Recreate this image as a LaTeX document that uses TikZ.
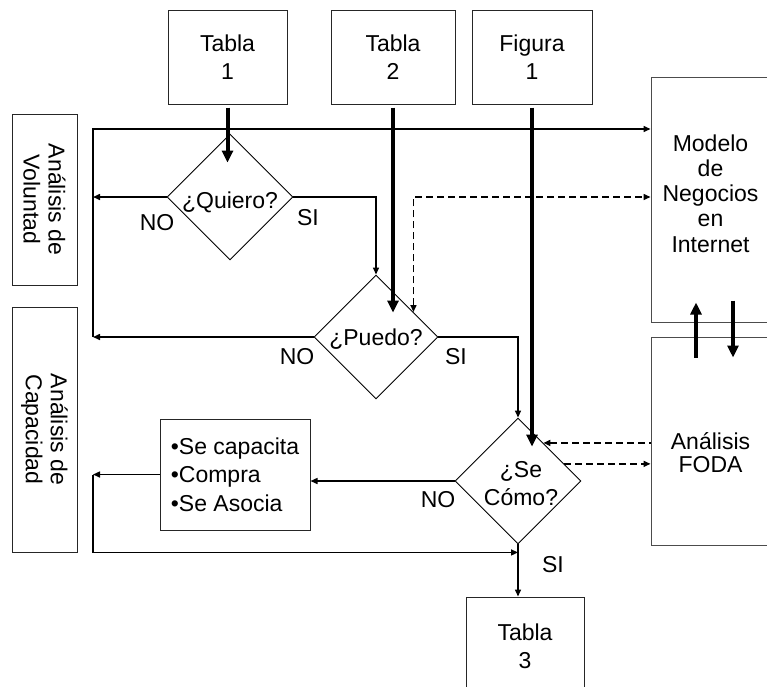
\documentclass[tikz,border=0pt]{standalone}
\usepackage{fontspec}
\setmainfont{Liberation Sans}
\usetikzlibrary{arrows.meta,shapes.geometric,calc}

\begin{document}
\begin{tikzpicture}[x=1pt,y=-1pt,
  >={Triangle[length=7pt,width=6pt]},
  txt/.style={font=\fontsize{23}{28}\selectfont, align=center},
  box/.style={draw=black!85, line width=1pt, inner sep=0pt, txt},
  rbox/.style={draw=black!70, line width=1pt, inner sep=0pt},
  decision/.style={diamond, draw, line width=0.9pt, inner sep=0pt,
    minimum width=126pt, minimum height=126pt},
  lbl/.style={font=\fontsize{23}{28}\selectfont, inner sep=0pt},
  flow/.style={line width=1.5pt, ->},
  dashlink/.style={line width=1.5pt, dash pattern=on 7pt off 4pt},
  heavy/.style={line width=4pt, -{Triangle[length=12pt,width=11pt]}},
]
\useasboundingbox (0,0) rectangle (767,686);

% source boxes
\node[box, minimum width=119pt, minimum height=94pt] (tabla1) at (227.5,57) {Tabla\\1};
\node[box, minimum width=124pt, minimum height=94pt] (tabla2) at (393,57) {Tabla\\2};
\node[box, minimum width=120pt, minimum height=94pt] (figura1) at (532,57) {Figura\\1};
\node[box, minimum width=118pt, minimum height=98pt] (tabla3) at (525,646) {Tabla\\3};

% side captions
\node[box, rotate=-90, minimum width=171pt, minimum height=65pt, font=\fontsize{23}{25}\selectfont]
  (voluntad) at (44.5,199.5) {Análisis de\\Voluntad};
\node[box, rotate=-90, minimum width=245pt, minimum height=65pt, font=\fontsize{23}{25}\selectfont]
  (capacidad) at (44.5,429.5) {Análisis de\\Capacidad};

% right-hand blocks
\node[rbox, minimum width=119pt, minimum height=245pt] (modelo) at (710.5,199.5) {};
\node[txt, font=\fontsize{23}{25.2}\selectfont] at ([yshift=6pt]modelo.center)
  {Modelo\\de\\Negocios\\en\\Internet};
\node[rbox, minimum width=119pt, minimum height=208pt] (foda) at (710.5,441) {};
\node[txt, font=\fontsize{23}{23}\selectfont] at ([yshift=-12pt]foda.center) {Análisis\\FODA};

% actions box
\node[box, minimum width=150pt, minimum height=111pt, align=left,
  font=\fontsize{23}{28.5}\selectfont] (acciones) at (235,474.5)
  {•Se capacita\\•Compra\\•Se Asocia};

% decisions
\node[decision, label={[lbl,yshift=-5pt]center:¿Quiero?}] (quiero) at (230,197) {};
\node[decision, minimum width=124pt, minimum height=124pt,
  label={[lbl,yshift=-2pt]center:¿Puedo?}] (puedo) at (376,337) {};
\node[decision, label={[lbl,align=center,xshift=3pt,yshift=-3pt]center:¿Se\\Cómo?}] (secomo) at (518,481) {};

% helper points
\coordinate (lt) at (93,129);
\coordinate (bl) at (acciones.west -| lt);
\coordinate (join) at ($(secomo.south)+(0,8)$);
\coordinate (pd) at ($(puedo.north)!0.6!(puedo.east)$);
\coordinate (fa) at ($(secomo.north)!0.4!(secomo.east)$);
\coordinate (fb) at ($(secomo.north)!0.73!(secomo.east)$);
\coordinate (t1) at ($(quiero.north)+(0,29)$);
\coordinate (t2) at ($(puedo.north)+(0,38)$);
\coordinate (t3) at ($(secomo.north)+(0,29)$);

% thin flow lines
\draw[flow] (quiero.west) -- (quiero.west -| lt);
\draw[flow] (puedo.west) -- (puedo.west -| lt);
\draw[flow] (puedo.west -| lt) -- (lt) -- (lt -| modelo.west);
\draw[flow] (quiero.east) -| (puedo.north);
\draw[flow] (puedo.east) -| (secomo.north);
\draw[flow] (secomo.west) -- (secomo.west -| acciones.east);
\draw[flow] (acciones.west) -- (bl);
\draw[flow] (bl) |- (join);
\draw[flow] (secomo.south) -- (tabla3.north -| secomo.south);

% dashed feedback links
\draw[dashlink, <->] (pd) -- (pd |- quiero.east) -- (quiero.east -| modelo.west);
\draw[dashlink, <-] (fa) -- (fa -| foda.west);
\draw[dashlink, ->] (fb) -- (fb -| foda.west);

% heavy inputs
\draw[heavy, shorten <=3pt] (tabla1.south) -- (tabla1.south |- t1);
\draw[heavy, shorten <=3pt] (tabla2.south) -- (tabla2.south |- t2);
\draw[heavy, shorten <=3pt] (figura1.south) -- (figura1.south |- t3);
\draw[heavy] ($(foda.north)+(-14.5,21)$) -- ($(modelo.south)+(-14.5,-20)$);
\draw[heavy] ($(modelo.south)+(22.5,-22)$) -- ($(foda.north)+(22.5,21)$);

% branch labels
\node[lbl] at (157,223) {NO};
\node[lbl] at (308,218) {SI};
\node[lbl] at (297,357) {NO};
\node[lbl] at (456,357) {SI};
\node[lbl] at (438,500) {NO};
\node[lbl] at (553,565) {SI};
\end{tikzpicture}
\end{document}
